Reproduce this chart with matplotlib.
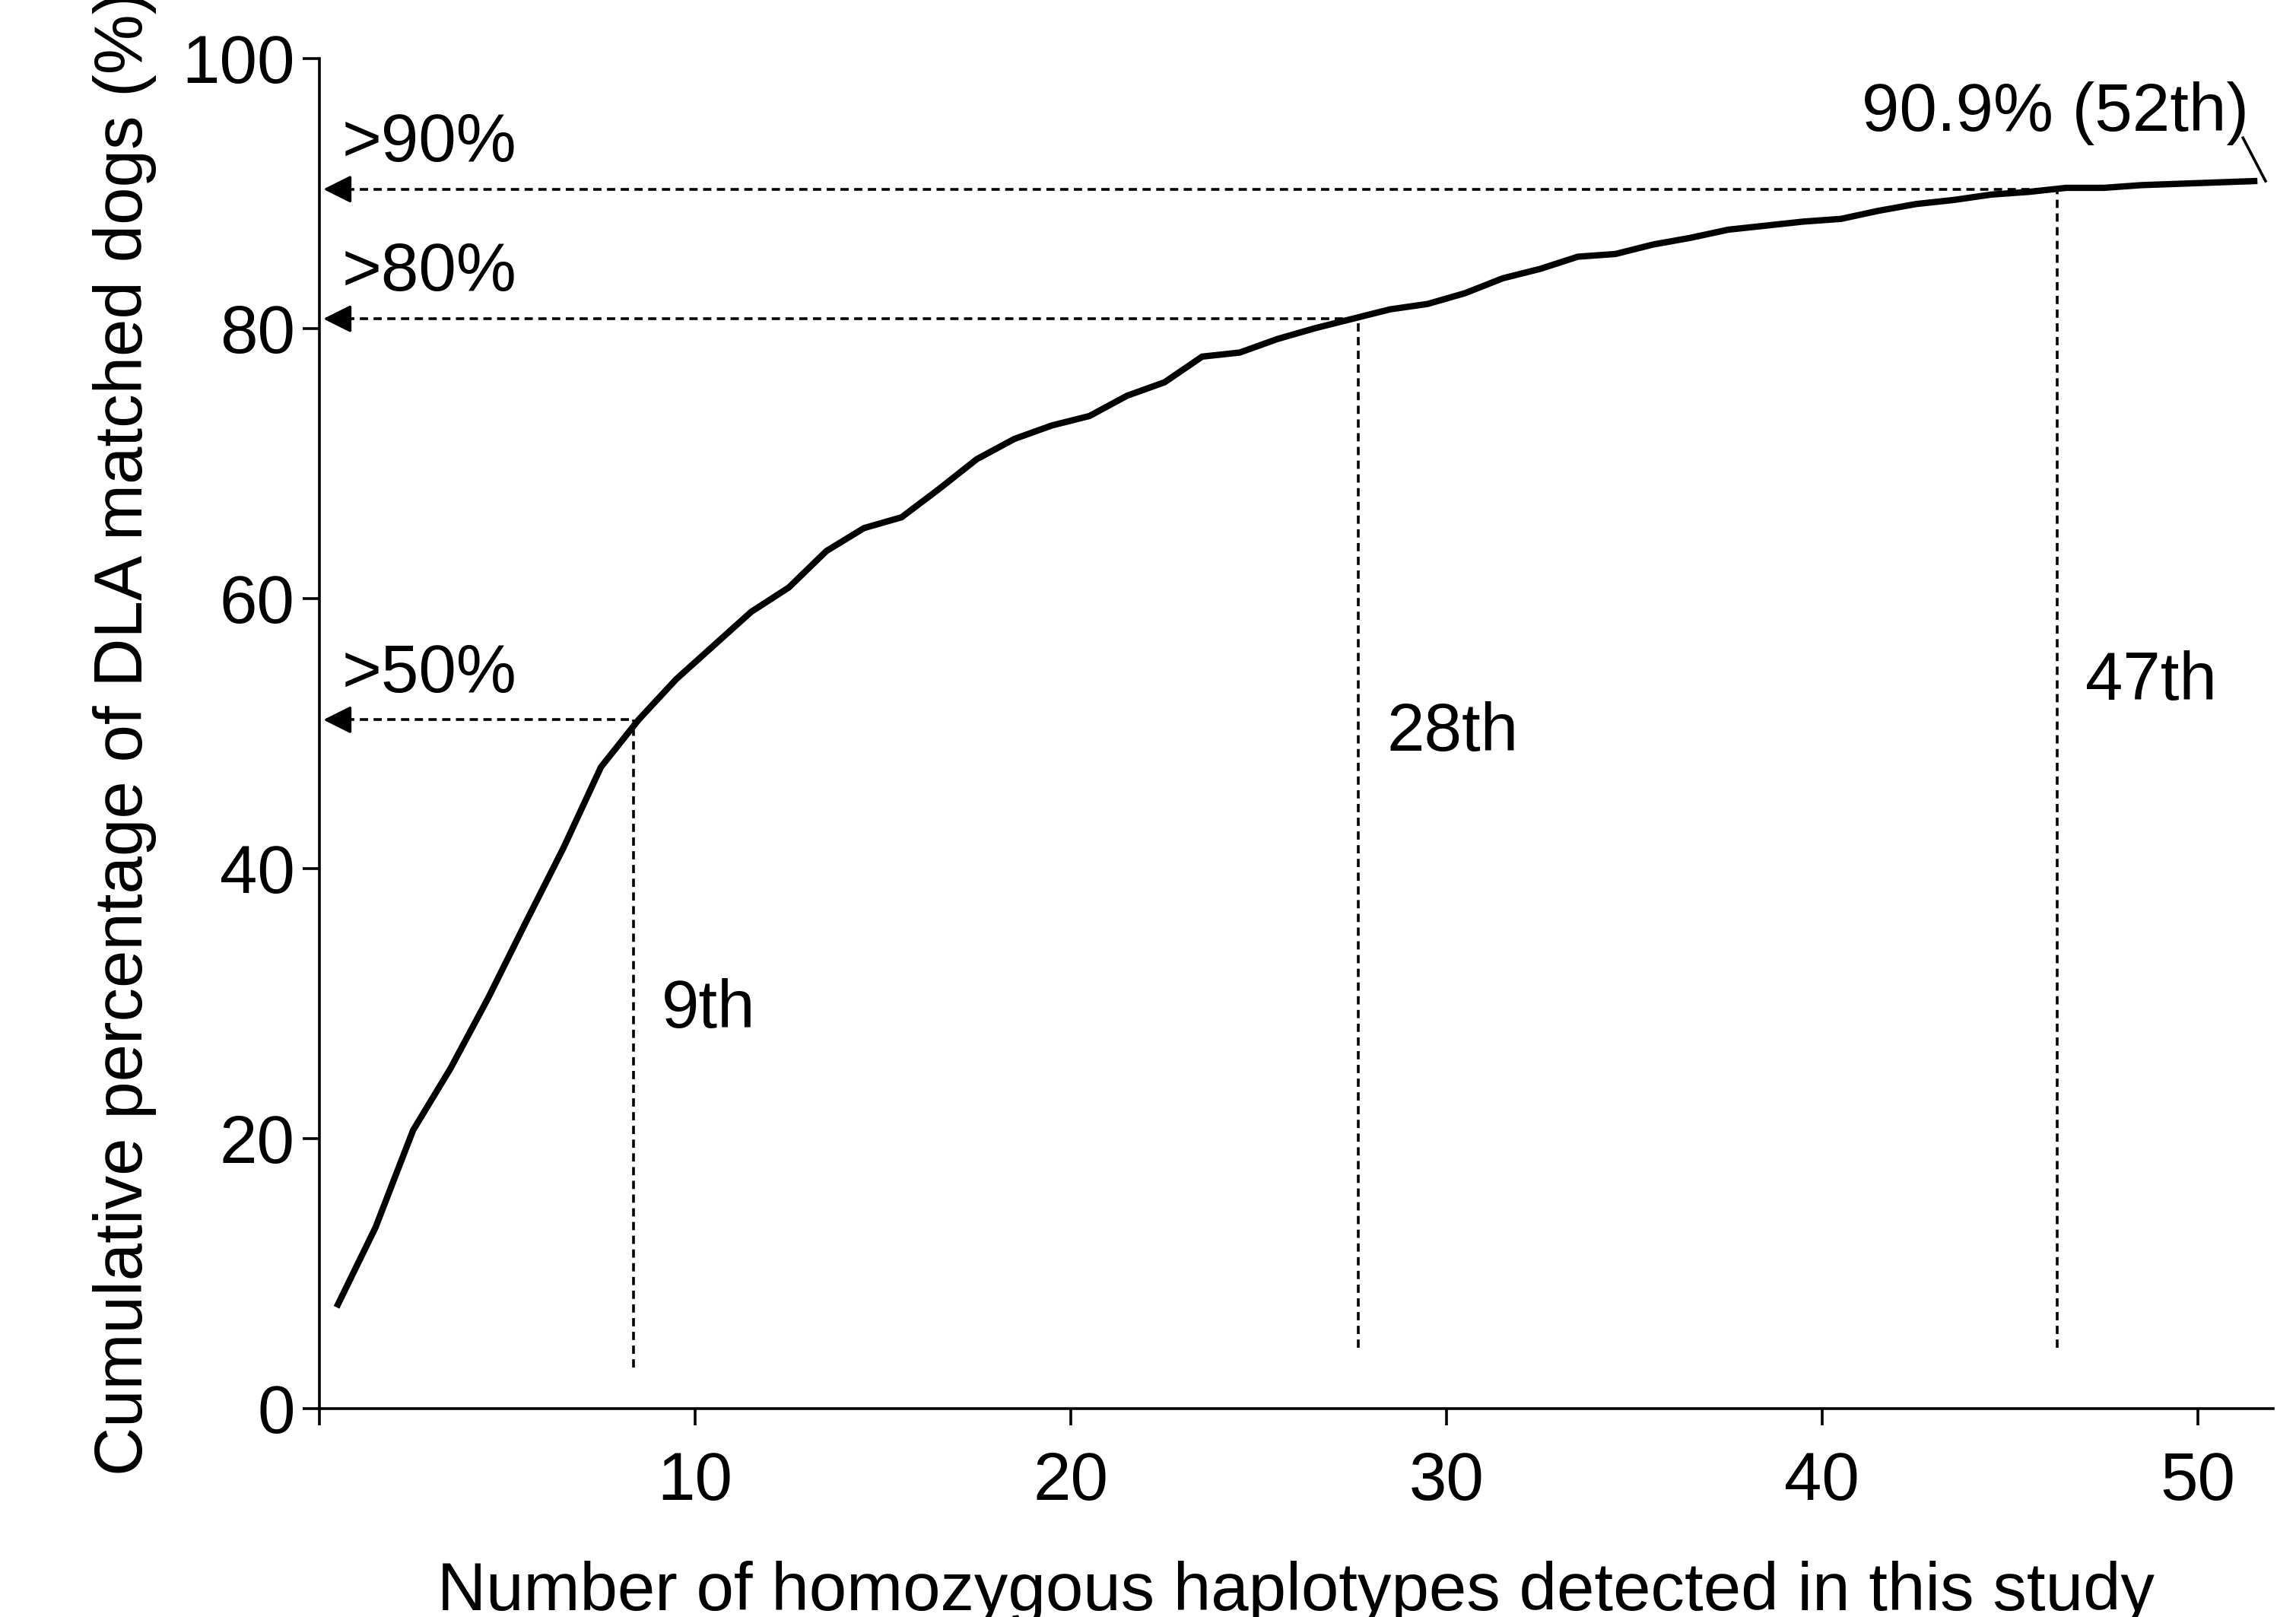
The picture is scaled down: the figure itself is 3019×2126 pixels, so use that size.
import numpy as np
import matplotlib
matplotlib.use("Agg")
import matplotlib.pyplot as plt

plt.rcParams['font.family'] = ['Liberation Sans', 'DejaVu Sans']

# cumulative percentage per number of homozygous haplotypes (1..52)
n_haplo = list(range(1, 53))
cum_pct = [7.7, 13.4, 20.6, 25.2, 30.4, 36.0, 41.5, 47.5, 51.0, 54.0,
           56.5, 59.0, 60.8, 63.5, 65.2, 66.0, 68.1, 70.3, 71.8, 72.8,
           73.5, 75.0, 76.0, 77.9, 78.2, 79.2, 80.0, 80.7, 81.4, 81.8,
           82.6, 83.7, 84.4, 85.3, 85.5, 86.2, 86.7, 87.3, 87.6, 87.9,
           88.1, 88.7, 89.2, 89.5, 89.9, 90.1, 90.4, 90.4, 90.6, 90.7,
           90.8, 90.9]

# thresholds: (label, y level, x of crossing, vertical label, label pos)
thr_labels = [">50%", ">80%", ">90%"]
thr_y = [51.0, 80.7, 90.3]
thr_x = [8.36, 27.66, 46.25]
rank_labels = ["9th", "28th", "47th"]
rank_bottom = [3.0, 4.5, 4.5]
rank_text_y = [29.5, 50.0, 53.8]

FS = 32

fig = plt.figure(figsize=(15.095, 10.63), dpi=200)
ax = fig.add_axes([0.139, 0.129, 0.851, 0.835])

x = np.array(n_haplo) - 0.5
ax.plot(x, cum_pct, color="black", lw=3.0, solid_joinstyle="miter")

for lab, yv, xv, rl, yb, yt in zip(thr_labels, thr_y, thr_x, rank_labels,
                                   rank_bottom, rank_text_y):
    ax.plot([0.35, xv], [yv, yv], ls=(0, (3, 2)), color="black", lw=1.3)
    ax.annotate("", xy=(0.0, yv), xytext=(0.6, yv),
                arrowprops=dict(arrowstyle="-|>", color="black", lw=1.3,
                                mutation_scale=28))
    ax.text(0.6, yv + 1.0, lab, fontsize=FS, va="bottom", ha="left")
    ax.plot([xv, xv], [yb, yv], ls=(0, (3, 2)), color="black", lw=1.3)
    ax.text(xv + 0.75, yt, rl, fontsize=FS, va="center", ha="left")

ax.text(46.2, 95.9, "90.9% (52th)", fontsize=FS, va="center", ha="center")
ax.plot([51.2, 51.8], [94.1, 90.9], color="black", lw=1.3)

ax.set_xlim(0, 52)
ax.set_ylim(0, 100)
ax.set_xticks([0, 10, 20, 30, 40, 50])
ax.set_xticklabels(["", "10", "20", "30", "40", "50"])
ax.set_yticks(range(0, 101, 20))
ax.tick_params(labelsize=FS, length=8, width=1.3, direction="out")
ax.tick_params(axis="x", pad=12)
for s in ["top", "right"]:
    ax.spines[s].set_visible(False)
for s in ["left", "bottom"]:
    ax.spines[s].set_linewidth(1.3)

ax.set_xlabel("Number of homozygous haplotypes detected in this study",
              fontsize=FS, labelpad=22)
ax.set_ylabel("Cumulative percentage of DLA matched dogs (%)", fontsize=FS,
              labelpad=12)

fig.savefig("out.png", dpi=200)
